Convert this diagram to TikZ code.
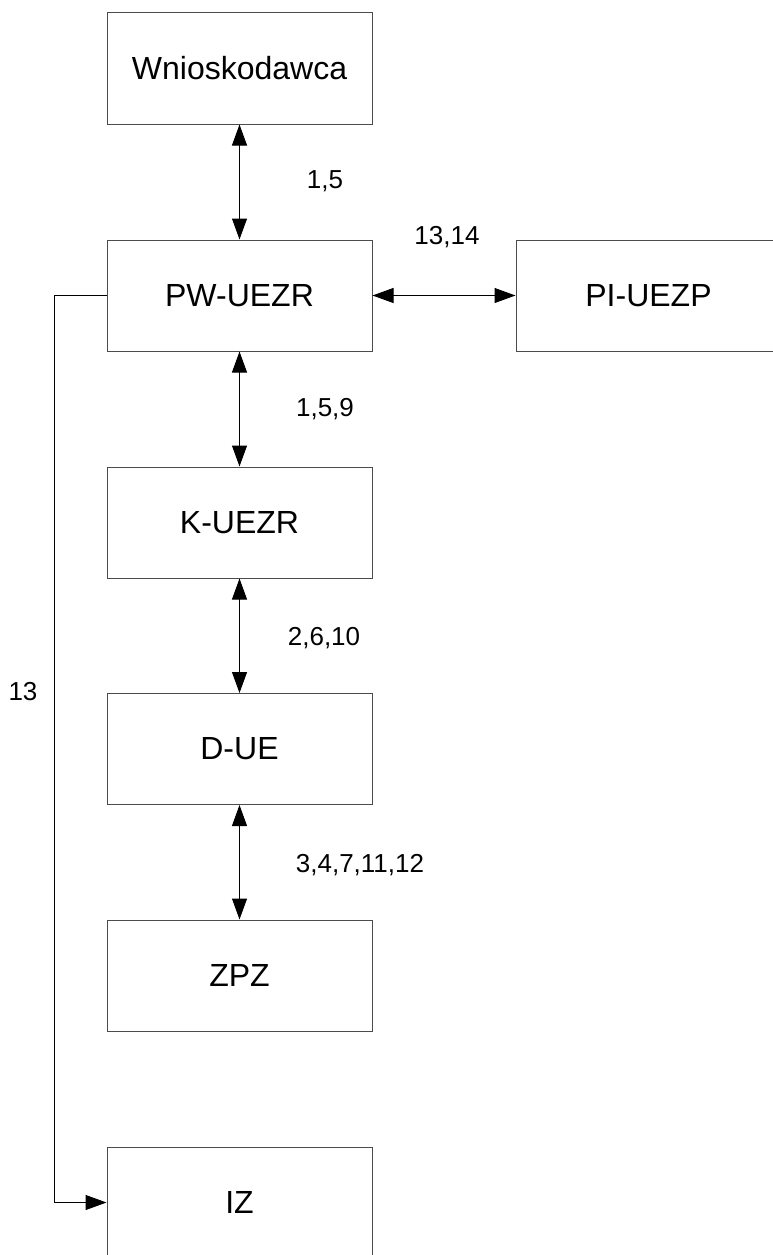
\documentclass[tikz,border=0pt]{standalone}
\usepackage{fontspec}
\setmainfont{Liberation Sans}
\usetikzlibrary{arrows.meta}
\begin{document}
\begin{tikzpicture}[x=1pt,y=-1pt,
  box/.style={draw=black!70, line width=1pt, minimum width=265pt, minimum height=111pt, inner sep=0pt, font=\fontsize{32}{36}\selectfont},
  lbl/.style={inner sep=0pt, font=\fontsize{26}{28}\selectfont},
  conn/.style={draw=black, line width=1pt},
  dbl/.style={conn, {Triangle[length=21pt,width=15pt]}-{Triangle[length=21pt,width=15pt]}},
  single/.style={conn, -{Triangle[length=21pt,width=15pt]}}]
\useasboundingbox[fill=white] (0,0) rectangle (773,1255);
\node[box] (w)  at (239.5,68.5)  {Wnioskodawca};
\node[box] (pw) at (239.5,295.5) {PW-UEZR};
\node[box] (pi) at (648.5,295.5) {PI-UEZP};
\node[box] (k)  at (239.5,522.5) {K-UEZR};
\node[box] (d)  at (239.5,749)   {D-UE};
\node[box] (z)  at (239.5,975.5) {ZPZ};
\node[box] (iz) at (239.5,1202.5) {IZ};
\draw[dbl] (w.south) -- (pw.north);
\draw[dbl] (pw.east) -- (pi.west);
\draw[dbl] (pw.south) -- (k.north);
\draw[dbl] (k.south) -- (d.north);
\draw[dbl] (d.south) -- (z.north);
\coordinate (c1) at (54,295.5);
\coordinate (c2) at (54,1202.5);
\draw[single] (pw.west) -- (c1) -- (c2) -- (iz.west);
\node[lbl] (l1) at (325,181) {1,5};
\node[lbl] (l2) at (447,237) {13,14};
\node[lbl] (l3) at (325,409) {1,5,9};
\node[lbl] (l4) at (324,638) {2,6,10};
\node[lbl] (l5) at (360,865) {3,4,7,11,12};
\node[lbl] (l6) at (23,692) {13};
\end{tikzpicture}
\end{document}
